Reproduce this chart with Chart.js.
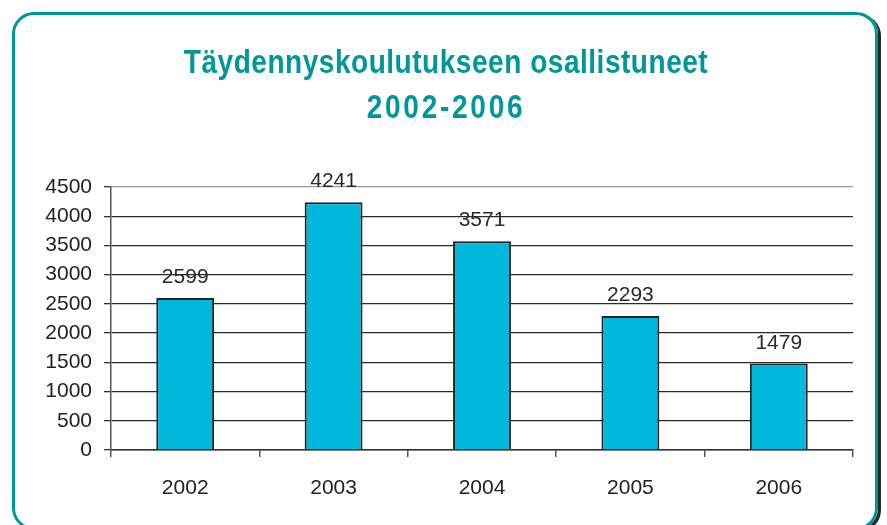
<!DOCTYPE html>
<html lang="fi">
<head>
	<meta charset="utf-8" />
	<title>Täydennyskoulutukseen osallistuneet</title>
	<style>
		html, body { margin: 0; padding: 0; background: #fff; overflow: hidden; }
		#wrap { position: relative; width: 887px; height: 525px; overflow: hidden; }
		#frame {
			position: absolute; left: 12px; top: 12px;
			width: 860px; height: 512px;
			border: 3px solid #00979c; border-radius: 22px;
			box-shadow: 3px 2px 0 #1e2a2a;
		}
		#c1 { position: absolute; left: 0; top: 0; }
	</style>
</head>
<body>
	<div id="wrap">
		<div id="frame"></div>
		<canvas id="c1" width="887" height="525"></canvas>
	</div>
	<script src="https://cdn.jsdelivr.net/npm/chart.js@4/dist/chart.umd.min.js"></script>
	<script>
	// data
	var years = ['2002', '2003', '2004', '2005', '2006'];
	var participants = [2599, 4241, 3571, 2293, 1479];
	var titleLines = ['Täydennyskoulutukseen osallistuneet', '2002-2006'];

	// condensed bold title (no narrow font installed, so squeeze it)
	var condensedTitle = {
		id: 'condensedTitle',
		afterDraw: function(chart, args, opts) {
			var ctx = chart.ctx;
			ctx.save();
			ctx.font = 'bold 33px "Liberation Sans", Arial, sans-serif';
			ctx.fillStyle = '#00979c';
			ctx.textAlign = 'center';
			ctx.textBaseline = 'alphabetic';
			titleLines.forEach(function(line, i) {
				ctx.save();
				ctx.translate(opts.x, opts.baselines[i]);
				ctx.scale(opts.squeeze, 1);
				ctx.letterSpacing = opts.spacing[i] + 'px';
				ctx.fillText(line, 0, 0);
				ctx.restore();
			});
			ctx.restore();
		}
	};

	// value labels above the bars
	var barLabels = {
		id: 'barLabels',
		afterDatasetsDraw: function(chart) {
			var ctx = chart.ctx;
			var meta = chart.getDatasetMeta(0);
			ctx.save();
			ctx.font = '21px "Liberation Sans", Arial, sans-serif';
			ctx.fillStyle = '#2a2a2a';
			ctx.textAlign = 'center';
			ctx.textBaseline = 'alphabetic';
			meta.data.forEach(function(bar, i) {
				ctx.fillText(String(participants[i]), bar.x, bar.y - 15);
			});
			ctx.restore();
		}
	};

	var chart = new Chart(document.getElementById('c1'), {
		type: 'bar',
		plugins: [barLabels, condensedTitle],
		data: {
			labels: years,
			datasets: [{
				data: participants,
				backgroundColor: '#00b7dc',
				borderColor: '#222',
				borderWidth: 2,
				categoryPercentage: 1,
				barPercentage: 0.39
			}]
		},
		options: {
			responsive: false,
			animation: false,
			layout: { padding: { left: 0, right: 34, top: 187, bottom: 0 } },
			plugins: {
				legend: { display: false },
				tooltip: { enabled: false },
				title: { display: false },
				condensedTitle: { x: 446, baselines: [73, 118], squeeze: 0.85, spacing: [0.6, 3.2] }
			},
			scales: {
				x: {
					offset: true,
					grid: {
						offset: true,
						drawOnChartArea: true,
						color: function(c) { return c.index === years.length ? '#9a9a9a' : 'rgba(0,0,0,0)'; },
						tickColor: '#555',
						tickLength: 7,
						lineWidth: 1.5
					},
					border: { color: '#333', width: 1.5 },
					ticks: {
						color: '#222',
						padding: 19,
						font: { family: '"Liberation Sans", Arial, sans-serif', size: 21 }
					},
					afterFit: function(scale) { scale.height = 75; }
				},
				y: {
					min: 0,
					max: 4500,
					grid: {
						color: function(c) { return c.tick && c.tick.value === 4500 ? '#9a9a9a' : '#2a2a2a'; },
						tickColor: '#333',
						tickLength: 7,
						lineWidth: 1.3
					},
					border: { color: '#555', width: 1.5 },
					ticks: {
						stepSize: 500,
						color: '#222',
						padding: 12,
						font: { family: '"Liberation Sans", Arial, sans-serif', size: 21 },
						callback: function(v) { return String(v); }
					},
					afterFit: function(scale) { scale.width = 111; }
				}
			}
		}
	});
	</script>
</body>
</html>
